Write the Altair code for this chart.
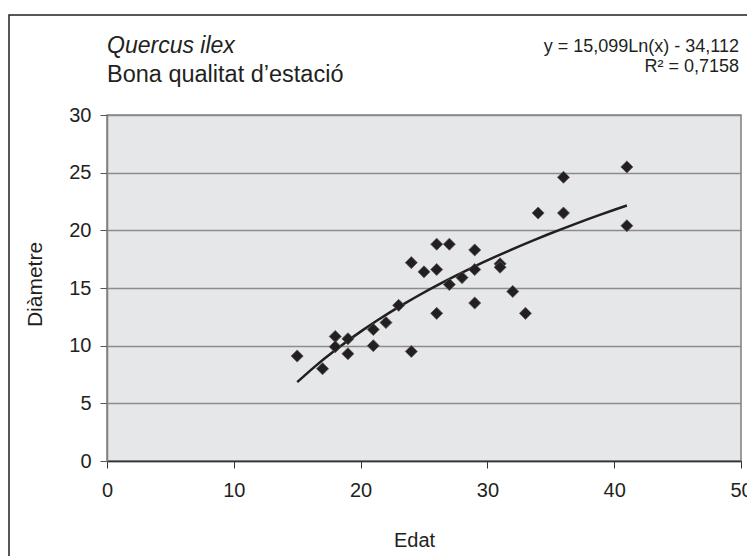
import altair as alt
import pandas as pd

# ---- data ----
EDAT = [15, 17, 18, 18, 19, 19, 21, 21, 22, 23, 24, 24, 25, 26, 26, 26, 27, 27,
        28, 29, 29, 29, 31, 31, 32, 33, 34, 36, 36, 41, 41]
DIAMETRE = [9.1, 8.0, 10.8, 9.9, 10.6, 9.3, 11.4, 10.0, 12.0, 13.5, 9.5, 17.2,
            16.4, 18.8, 16.6, 12.8, 18.8, 15.3, 15.9, 18.3, 16.6, 13.7, 17.1,
            16.8, 14.7, 12.8, 21.5, 24.6, 21.5, 25.5, 20.4]
X_TICKS = [0, 10, 20, 30, 40, 50]
Y_TICKS = [0, 5, 10, 15, 20, 25, 30]
TITLE_1 = "Quercus ilex"
TITLE_2 = "Bona qualitat d\u2019estació"
EQUATION = "y = 15,099Ln(x) - 34,112"
R2_TEXT = "R\u00b2 = 0,7158"
X_TITLE = "Edat"
Y_TITLE = "Diàmetre"

FONT = "Liberation Sans"
INK = "#231f20"

df = pd.DataFrame({"edat": EDAT, "diam": DIAMETRE})

x_enc = alt.X(
    "edat:Q",
    scale=alt.Scale(domain=[0, 50], nice=False),
    axis=alt.Axis(
        values=X_TICKS, title=X_TITLE, grid=False,
        domainColor="#333333", domainWidth=1.5,
        tickColor="#333333", tickSize=7, tickWidth=1,
        labelPadding=12, labelFlush=False, labelOverlap=False,
        titleX=307, titleY=85, titleBaseline="alphabetic",
    ),
)
y_enc = alt.Y(
    "diam:Q",
    scale=alt.Scale(domain=[0, 30], nice=False),
    axis=alt.Axis(
        values=Y_TICKS, title=Y_TITLE, grid=True,
        gridColor="#8c8c8c", gridWidth=1.5,
        domainColor="#808080", domainWidth=1.5,
        tickColor="#555555", tickSize=7, tickWidth=1,
        labelPadding=9, titleX=-66, titleY=169, titleAngle=-90,
        titleBaseline="alphabetic", titleFontSize=21,
    ),
)

base = alt.Chart(df)
points = base.mark_point(
    shape="diamond", filled=True, size=145, color=INK, opacity=1,
    stroke="#555555", strokeWidth=0.8,
).encode(x=x_enc, y=y_enc)

trend = base.transform_regression(
    "edat", "diam", method="log"
).mark_line(color=INK, strokeWidth=2.5).encode(x=x_enc, y=y_enc)

one = pd.DataFrame({"k": [0]})
border = alt.Chart(one).mark_rect(
    fillOpacity=0, stroke=INK, strokeWidth=1.5
).encode(
    x=alt.value(-98), x2=alt.value(720), y=alt.value(-100), y2=alt.value(520)
)


def label(txt, xpix, ypix, align, size, style="normal"):
    return alt.Chart(pd.DataFrame({"t": [txt]})).mark_text(
        align=align, baseline="alphabetic", font=FONT, fontSize=size,
        fontStyle=style, color=INK,
    ).encode(text="t:N", x=alt.value(xpix), y=alt.value(ypix))


t1 = label(TITLE_1, 0, -62, "left", 23, "italic")
t2 = label(TITLE_2, 0, -33, "left", 23.5)
eq = label(EQUATION, 632, -63, "right", 18)
r2 = label(R2_TEXT, 632, -43, "right", 18)

chart = alt.layer(border, trend, points, t1, t2, eq, r2).properties(
    width=634, height=346,
    autosize=alt.AutoSizeParams(type="none"),
    padding={"left": 107, "top": 115, "right": 6, "bottom": 95},
    background="white",
).configure_view(
    fill="#e6e7e9", stroke="#808080", strokeWidth=1.5
).configure_axis(
    labelFont=FONT, labelFontSize=20, labelColor=INK,
    titleFont=FONT, titleFontSize=20, titleColor=INK, titleFontWeight="normal",
)

chart.save("out.html", embed_options={"renderer": "svg", "actions": False})
